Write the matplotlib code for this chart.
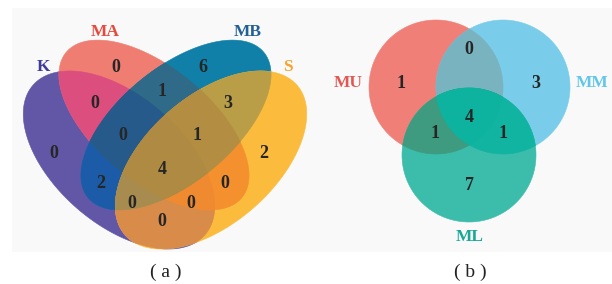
import itertools
import numpy as np
import matplotlib
matplotlib.use("Agg")
import matplotlib.pyplot as plt
from matplotlib.patches import Rectangle

# ---- data: panel (a), four sets ----
sets_a = ["K", "MA", "MB", "S"]
regions_a = ["K", "MA", "MB", "S",
             "K&MA", "K&MB", "K&S", "MA&MB", "MA&S", "MB&S",
             "K&MA&MB", "K&MA&S", "K&MB&S", "MA&MB&S",
             "K&MA&MB&S"]
counts_a = [0, 0, 6, 2,
            0, 2, 0, 1, 0, 3,
            0, 0, 0, 1,
            4]

# ---- data: panel (b), three sets ----
sets_b = ["MU", "MM", "ML"]
regions_b = ["MU", "MM", "ML", "MU&MM", "MU&ML", "MM&ML", "MU&MM&ML"]
counts_b = [1, 3, 7, 0, 1, 1, 4]

panel_labels = ["( a )", "( b )"]

# ---- layout (pixel coordinates, y down) ----
# ellipse: centre x, centre y, semi-major, semi-minor, angle (deg)
shapes_a = {
    "K":  (119, 160, 114, 64, 41.0),
    "MA": (154, 125, 114, 57, 39.6),
    "MB": (176, 125, 114, 57, 140.4),
    "S":  (211, 160, 114, 64, 139.0),
}
shapes_b = {
    "MU": (436, 87, 67, 67, 0),
    "MM": (503, 87, 67, 67, 0),
    "ML": (469, 155, 67, 67, 0),
}

region_colors = {
    "K": "#6157a6", "MA": "#ef7d72", "MB": "#1180a8", "S": "#fbbc3e",
    "K&MA": "#dc4e7d", "K&MB": "#1c5ba8", "K&S": "#d98b49",
    "MA&MB": "#2f6b88", "MA&S": "#f5902f", "MB&S": "#b99d47",
    "K&MA&MB": "#255a8a", "K&MA&S": "#ef8a30", "K&MB&S": "#a88b4f",
    "MA&MB&S": "#b28d42", "K&MA&MB&S": "#ae8a42",
    "MU": "#f07f78", "MM": "#79cdeb", "ML": "#3cbcaa",
    "MU&MM": "#79b3c0", "MU&ML": "#3e9b80", "MM&ML": "#11b4a0",
    "MU&MM&ML": "#0db39e",
}

count_pos = {
    "K": (54, 154), "MA": (116, 67), "MB": (203, 67), "S": (264, 154),
    "K&MA": (95, 104), "K&MB": (101, 184), "K&S": (162, 222),
    "MA&MB": (162, 91), "MA&S": (225, 184), "MB&S": (228, 104),
    "K&MA&MB": (123, 135), "K&MA&S": (191, 203), "K&MB&S": (132, 203),
    "MA&MB&S": (197, 135), "K&MA&MB&S": (162, 170),
    "MU": (401, 83), "MM": (536, 83), "ML": (469, 185),
    "MU&MM": (469, 50), "MU&ML": (435, 134), "MM&ML": (503, 134),
    "MU&MM&ML": (469, 117),
}

set_label_pos = {"K": (43, 67), "MA": (105, 32), "MB": (248, 32), "S": (288, 67),
                 "MU": (348, 83), "MM": (592, 83), "ML": (470, 237)}
set_label_colors = {"K": "#3f3b98", "MA": "#e8493d", "MB": "#215f96", "S": "#f6a42c",
                    "MU": "#e65650", "MM": "#62c6ea", "ML": "#19a894"}
panel_label_pos = [(166, 272), (470, 272)]


def ellipse_poly(cx, cy, a, b, ang, n=400):
    t = np.linspace(0, 2 * np.pi, n, endpoint=False)
    th = np.radians(ang)
    x = cx + a * np.cos(t) * np.cos(th) - b * np.sin(t) * np.sin(th)
    y = cy + a * np.cos(t) * np.sin(th) + b * np.sin(t) * np.cos(th)
    return np.column_stack([x, y])


def clip_convex(subject, clipper):
    # Sutherland-Hodgman, both polygons convex
    area = np.sum(clipper[:, 0] * np.roll(clipper[:, 1], -1)
                  - np.roll(clipper[:, 0], -1) * clipper[:, 1])
    s = np.sign(area)
    out = list(subject)
    for i in range(len(clipper)):
        A, B = clipper[i], clipper[(i + 1) % len(clipper)]
        e = B - A
        inp, out = out, []
        if not inp:
            break

        def side(P):
            return s * (e[0] * (P[1] - A[1]) - e[1] * (P[0] - A[0]))

        prev = inp[-1]
        for cur in inp:
            sc, sp = side(cur), side(prev)
            if sc >= 0:
                if sp < 0:
                    r = sp / (sp - sc)
                    out.append(prev + r * (cur - prev))
                out.append(cur)
            elif sp >= 0:
                r = sp / (sp - sc)
                out.append(prev + r * (cur - prev))
            prev = cur
    return np.array(out)


def draw_venn(ax, names, shapes, regions, counts):
    polys = {k: ellipse_poly(*v) for k, v in shapes.items()}
    # draw by increasing number of sets so the exact region colour ends on top
    for key in sorted(regions, key=lambda r: r.count("&")):
        members = key.split("&")
        poly = polys[members[0]]
        for m in members[1:]:
            poly = clip_convex(poly, polys[m])
        if len(poly) > 2:
            ax.fill(poly[:, 0], poly[:, 1], color=region_colors[key],
                    lw=0.4, ec=region_colors[key], zorder=2)
    for key, c in zip(regions, counts):
        x, y = count_pos[key]
        ax.text(x, y, str(c), ha="center", va="center", fontsize=13,
                fontweight="bold", color="#262626", family="Liberation Serif",
                zorder=5)
    for n in names:
        x, y = set_label_pos[n]
        ax.text(x, y, n, ha="center", va="center", fontsize=12.5,
                fontweight="bold", color=set_label_colors[n],
                family="Liberation Serif", zorder=5)


fig = plt.figure(figsize=(6.12, 2.84), dpi=100)
ax = fig.add_axes([0, 0, 1, 1])
ax.set_xlim(0, 612)
ax.set_ylim(284, 0)
ax.axis("off")

ax.add_patch(Rectangle((12, 8), 600, 244, color="#f9f9f9", lw=0, zorder=0))

draw_venn(ax, sets_a, shapes_a, regions_a, counts_a)
draw_venn(ax, sets_b, shapes_b, regions_b, counts_b)

for lab, (x, y) in zip(panel_labels, panel_label_pos):
    ax.text(x, y, lab, ha="center", va="center", fontsize=14,
            color="#222222", family="Liberation Serif")

fig.savefig("out.png", dpi=100)
